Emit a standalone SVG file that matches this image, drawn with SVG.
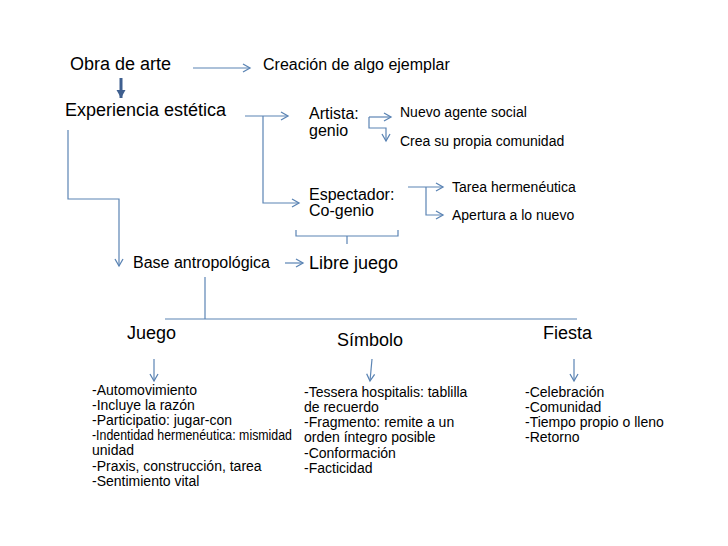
<svg xmlns="http://www.w3.org/2000/svg" width="728" height="546" viewBox="0 0 728 546">
<defs>
<marker id="chev" markerWidth="10" markerHeight="10" refX="8" refY="5" orient="auto" markerUnits="userSpaceOnUse">
<path d="M1,1 L8,5 L1,9" fill="none" stroke="#5b84b4" stroke-width="1.3"/>
</marker>
<marker id="tri" markerWidth="10" markerHeight="10" refX="8" refY="5" orient="auto" markerUnits="userSpaceOnUse">
<path d="M0,0.5 L8,5 L0,9.5 Z" fill="#3f5f8f"/>
</marker>
<style>
text{font-family:"Liberation Sans",Arial,sans-serif;fill:#000}
.t18{font-size:18px}
.t16{font-size:16px}
.t14{font-size:14px}
.c{fill:none;stroke:#5b84b4;stroke-width:1.2}
.a{marker-end:url(#chev)}
</style>
</defs>
<rect width="728" height="546" fill="#fff"/>
<g id="connectors">
<line class="c a" x1="193" y1="68" x2="250" y2="68"/>
<line x1="121" y1="78" x2="121" y2="98" stroke="#3f5f8f" stroke-width="3" marker-end="url(#tri)"/>
<polyline class="c a" points="245,116 288,116"/>
<polyline class="c a" points="263,116 263,203 299,203"/>
<polyline class="c a" points="68,130 68,199 119,199 119,266"/>
<line class="c a" x1="285" y1="263" x2="303" y2="263"/>
<polyline class="c a" points="369,117 391,117"/>
<polyline class="c a" points="369,117 369,128 386,128 386,141"/>
<polyline class="c a" points="408,187 443,187"/>
<polyline class="c a" points="426,187 426,215 443,215"/>
<polyline class="c" points="296,230 296,236 398,236 398,230"/>
<line class="c" x1="347" y1="236" x2="347" y2="244"/>
<line class="c" x1="205" y1="277" x2="205" y2="319"/>
<line class="c" x1="165" y1="319" x2="577" y2="319"/>
<line class="c a" x1="154" y1="359" x2="154" y2="381"/>
<line class="c a" x1="372" y1="359" x2="370" y2="381"/>
<line class="c a" x1="574" y1="359" x2="574" y2="381"/>
</g>
<g id="obra"><text class="t18" x="70" y="70">Obra de arte</text></g>
<g id="creacion"><text class="t16" x="263" y="70">Creación de algo ejemplar</text></g>
<g id="experiencia"><text class="t18" x="65" y="116">Experiencia estética</text></g>
<g id="artista"><text class="t16" x="309" y="119">Artista:</text><text class="t16" x="309" y="136">genio</text></g>
<g id="nuevo"><text class="t14" x="400" y="117">Nuevo agente social</text></g>
<g id="crea"><text class="t14" x="400" y="146">Crea su propia comunidad</text></g>
<g id="espectador"><text class="t16" x="309" y="200">Espectador:</text><text class="t16" x="309" y="216">Co-genio</text></g>
<g id="tarea"><text class="t14" x="452" y="192">Tarea hermenéutica</text></g>
<g id="apertura"><text class="t14" x="452" y="220">Apertura a lo nuevo</text></g>
<g id="base"><text class="t16" x="133" y="268">Base antropológica</text></g>
<g id="libre"><text class="t18" x="309" y="269">Libre juego</text></g>
<g id="juego"><text class="t18" x="127" y="339">Juego</text></g>
<g id="simbolo"><text class="t18" x="337" y="346">Símbolo</text></g>
<g id="fiesta"><text class="t18" x="543" y="339">Fiesta</text></g>
<g id="juego-list">
<text class="t14" x="92" y="395">-Automovimiento</text>
<text class="t14" x="92" y="410">-Incluye la razón</text>
<text class="t14" x="92" y="425">-Participatio: jugar-con</text>
<text class="t14" x="92" y="440" textLength="200" lengthAdjust="spacingAndGlyphs">-Indentidad hermenéutica: mismidad</text>
<text class="t14" x="92" y="455">unidad</text>
<text class="t14" x="92" y="471">-Praxis, construcción, tarea</text>
<text class="t14" x="92" y="486">-Sentimiento vital</text>
</g>
<g id="simbolo-list">
<text class="t14" x="304" y="397">-Tessera hospitalis: tablilla</text>
<text class="t14" x="304" y="412">de recuerdo</text>
<text class="t14" x="304" y="427">-Fragmento: remite a un</text>
<text class="t14" x="304" y="442">orden íntegro posible</text>
<text class="t14" x="304" y="458">-Conformación</text>
<text class="t14" x="304" y="473">-Facticidad</text>
</g>
<g id="fiesta-list">
<text class="t14" x="525" y="397">-Celebración</text>
<text class="t14" x="525" y="412">-Comunidad</text>
<text class="t14" x="525" y="427">-Tiempo propio o lleno</text>
<text class="t14" x="525" y="442">-Retorno</text>
</g>
</svg>
